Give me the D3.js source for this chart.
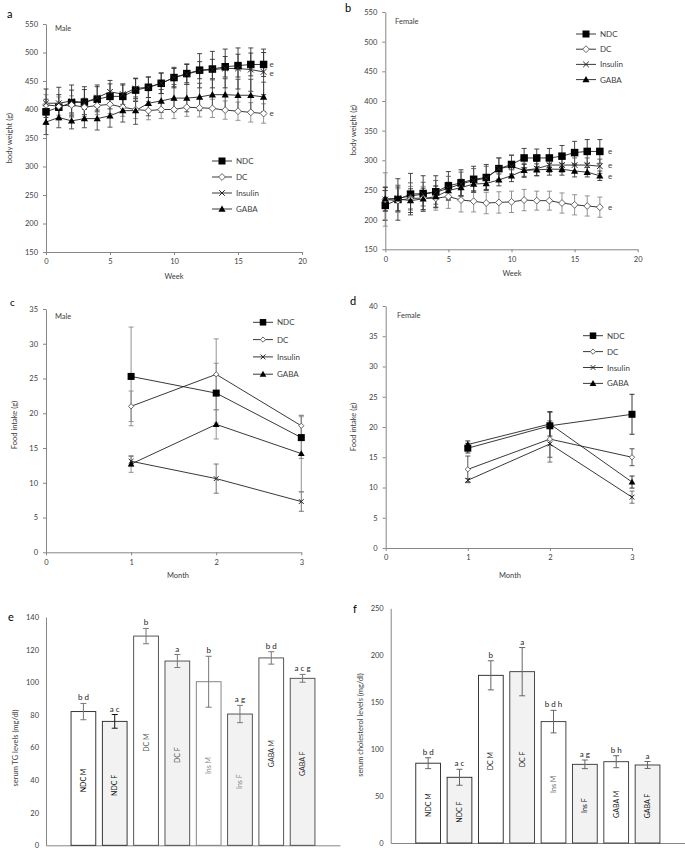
<!DOCTYPE html>
<html><head><meta charset="utf-8">
<script src="https://cdn.jsdelivr.net/npm/d3@7"></script>
<style>
body{margin:0;background:#fff;}
svg{display:block;font-family:Lato,"Open Sans",sans-serif;}
</style></head>
<body>
<svg id="c" width="685" height="850"></svg>
<script>
// ---------- DATA ----------
const weeks = d3.range(0, 18);
const seriesNames = ["NDC", "DC", "Insulin", "GABA"];

// Panel a – male body weight (g)
const aNDC = [396,404,412,413,418,423,423,434,439,446,456,463,469,471,475,477,479,479];
const aDC  = [408,406,408,404,407,409,404,400,398,400,400,404,403,402,399,397,395,393];
const aIns = [411,411,415,412,421,431,427,437,439,446,456,462,468,470,472,472,470,466];
const aGABA= [378,386,380,384,384,389,398,398,411,415,420,420,422,426,426,425,425,422];
const aNDCerr = [22,22,22,22,22,22,20,20,18,18,16,16,15,17,18,20,20,21];
const aDCerr  = [18,16,16,16,16,16,16,16,16,16,16,16,16,16,16,16,17,17];
const aInserr = [25,28,28,28,22,20,18,18,18,18,18,18,30,32,34,36,38,40];
const aGABAerr= [22,18,14,16,20,20,20,24,22,20,24,24,24,26,28,28,28,26];

// Panel b – female body weight (g)
const bNDC = [224,234,243,244,247,257,262,268,271,286,293,304,304,304,307,313,315,315];
const bDC  = [234,232,236,236,236,239,233,231,228,229,230,233,232,232,228,225,223,221];
const bIns = [234,236,240,243,246,253,260,266,270,286,290,283,286,292,292,292,292,290];
const bGABA= [235,235,232,235,239,249,254,260,261,267,274,283,284,285,285,282,280,274];
const bNDCerr = [25,35,35,30,27,24,22,22,22,18,16,16,15,16,18,19,20,20];
const bDCerr  = [45,20,20,20,20,20,20,18,18,18,18,18,16,16,17,17,17,17];
const bInserr = [20,22,22,20,20,20,20,20,20,18,18,12,12,12,12,12,12,12];
const bGABAerr= [20,20,20,18,18,14,14,12,10,10,10,10,10,10,10,10,8,8];

// Panels c, d – food intake (g)
const months = [1, 2, 3];
const cNDC = [25.3, 22.9, 16.5],  cNDCerr = [7.1, 4.3, 3.0];
const cDC  = [21.0, 25.6, 18.2],  cDCerr  = [2.2, 5.1, 1.5];
const cIns = [13.1, 10.6, 7.3],   cInserr = [0.7, 2.1, 1.4];
const cGABA= [12.7, 18.4, 14.2],  cGABAerr= [1.2, 2.1, 5.5];

const dNDC = [16.5, 20.2, 22.1],  dNDCerr = [0.8, 2.3, 3.3];
const dDC  = [13.0, 18.0, 15.0],  dDCerr  = [2.2, 3.0, 1.4];
const dIns = [11.2, 17.2, 8.4],   dInserr = [0.3, 3.0, 1.0];
const dGABA= [17.1, 20.5, 10.9],  dGABAerr= [0.6, 2.0, 1.0];

// Panels e, f – serum levels
const groups = ["NDC M","NDC F","DC M","DC F","Ins M","Ins F","GABA M","GABA F"];
const eTG    = [82, 76, 128.3, 113, 100.3, 80.5, 114.9, 102.4];
const eTGerr = [5, 4.2, 4.7, 4, 15.6, 5.3, 3.8, 2.4];
const eLetters = ["b d","a c","b","a","b","a g","b d","a c g"];
const fCh    = [85, 70, 178.6, 182.5, 129.3, 83.8, 86.6, 83.1];
const fCherr = [5.8, 8.5, 15.5, 25.7, 12, 4.6, 6.4, 3.7];
const fLetters = ["b d","a c","b","a","b d h","a g","b h","a"];

const weekTicks = [0,5,10,15,20];
const monthTicks = [0,1,2,3];
const bwTicks = [150,200,250,300,350,400,450,500,550];
const cTicks = [0,5,10,15,20,25,30,35];
const dTicks = [0,5,10,15,20,25,30,35,40];
const eTicks = [0,20,40,60,80,100,120,140];
const fTicks = [0,50,100,150,200,250];

// ---------- DRAW ----------
const svg = d3.select("#c");
const AX = "#868686", TXT = "#404040";
const fmt = d3.format("d");

function label(x, y, t, opts={}) {
  const s = svg.append("text").attr("x", x).attr("y", y).text(t)
    .attr("font-size", opts.size || 8).attr("fill", opts.fill || TXT)
    .attr("text-anchor", opts.anchor || "start");
  if (opts.rot) s.attr("transform", `rotate(${opts.rot},${x},${y})`);
  if (opts.weight) s.attr("font-weight", opts.weight);
  return s;
}

function axes(x, y, xTicks, yTicks, yTickSize) {
  const gx = svg.append("g").attr("transform", `translate(0,${y.range()[0]})`)
    .call(d3.axisBottom(x).tickValues(xTicks).tickFormat(fmt).tickSize(3).tickPadding(4).tickSizeOuter(0));
  const gy = svg.append("g").attr("transform", `translate(${x.range()[0]},0)`)
    .call(d3.axisLeft(y).tickValues(yTicks).tickFormat(fmt).tickSize(yTickSize).tickPadding(5).tickSizeOuter(0));
  [gx, gy].forEach(g => {
    g.select(".domain").attr("stroke", AX);
    g.selectAll(".tick line").attr("stroke", AX);
    g.selectAll(".tick text").attr("fill", TXT).attr("font-size", 7.5).attr("font-family", "Lato, sans-serif");
  });
  return [gx, gy];
}

function marker(g, type, cx, cy, s) {
  if (type === "NDC") {
    g.append("rect").attr("x", cx - s/2).attr("y", cy - s/2).attr("width", s).attr("height", s).attr("fill", "#000");
  } else if (type === "DC") {
    const r = s * 0.38;
    g.append("path").attr("d", `M${cx},${cy-r}L${cx+r},${cy}L${cx},${cy+r}L${cx-r},${cy}Z`)
      .attr("fill", "#fff").attr("stroke", "#555").attr("stroke-width", 0.9);
  } else if (type === "Insulin") {
    const r = s * 0.4;
    g.append("path").attr("d", `M${cx-r},${cy-r}L${cx+r},${cy+r}M${cx-r},${cy+r}L${cx+r},${cy-r}`)
      .attr("stroke", "#222").attr("stroke-width", 1).attr("fill", "none");
  } else {
    const r = s * 0.48;
    g.append("path").attr("d", `M${cx},${cy-r}L${cx+r},${cy+r*0.75}L${cx-r},${cy+r*0.75}Z`).attr("fill", "#000");
  }
}

function linePanel(cfg) {
  const {x, y, xs, data, errs, xTicks, yTicks, sizes, errColor} = cfg;
  axes(x, y, xTicks, yTicks, 3);
  const g = svg.append("g");
  data.forEach((vals, si) => {
    vals.forEach((v, i) => {
      const e = errs[si][i], cx = x(xs[i]);
      const col = errColor[si];
      g.append("line").attr("x1", cx).attr("x2", cx).attr("y1", y(v - e)).attr("y2", y(v + e)).attr("stroke", col).attr("stroke-width", 0.9);
      [v - e, v + e].forEach(t => g.append("line").attr("x1", cx - 2.5).attr("x2", cx + 2.5).attr("y1", y(t)).attr("y2", y(t)).attr("stroke", col).attr("stroke-width", 0.9));
    });
  });
  const line = d3.line().x((d, i) => x(xs[i])).y(d => y(d));
  data.forEach((vals) => {
    g.append("path").datum(vals).attr("d", line).attr("fill", "none").attr("stroke", "#222").attr("stroke-width", 0.9);
  });
  data.forEach((vals, si) => {
    vals.forEach((v, i) => marker(g, seriesNames[si], x(xs[i]), y(v), sizes[si]));
  });
}

function legend(x0, y0, dy, sizes) {
  seriesNames.forEach((n, i) => {
    const yy = y0 + i * dy;
    svg.append("line").attr("x1", x0).attr("x2", x0 + 20).attr("y1", yy).attr("y2", yy).attr("stroke", "#222").attr("stroke-width", 0.9);
    marker(svg.append("g"), n, x0 + 10, yy, sizes[i]);
    label(x0 + 24, yy + 3, n, {size: 8});
  });
}

// Panel a
{
  const x = d3.scaleLinear().domain([0, 20]).range([46, 302]);
  const y = d3.scaleLinear().domain([150, 550]).range([252, 24]);
  linePanel({x, y, xs: weeks, data: [aNDC, aDC, aIns, aGABA], errs: [aNDCerr, aDCerr, aInserr, aGABAerr],
    xTicks: weekTicks, yTicks: bwTicks, sizes: [7.5, 9, 7, 7.5], errColor: ["#333", "#888", "#333", "#444"]});
  legend(212, 161, 16, [7, 9, 7, 7.5]);
  label(7, 18, "a", {size: 11, fill: "#000"});
  label(55, 31, "Male", {size: 7.5});
  label(12, 138, "body weight (g)", {rot: -90, anchor: "middle", size: 7.5});
  label(174, 279, "Week", {anchor: "middle", size: 7.5});
  label(x(17) + 6, y(479) + 3, "e", {size: 8});
  label(x(17) + 6, y(466) + 4, "e", {size: 8});
  label(x(17) + 6, y(393) + 3, "e", {size: 8});
}
// Panel b
{
  const x = d3.scaleLinear().domain([0, 20]).range([385.3, 637.7]);
  const y = d3.scaleLinear().domain([150, 550]).range([249.3, 12]);
  linePanel({x, y, xs: weeks, data: [bNDC, bDC, bIns, bGABA], errs: [bNDCerr, bDCerr, bInserr, bGABAerr],
    xTicks: weekTicks, yTicks: bwTicks, sizes: [7.5, 9, 7, 7.5], errColor: ["#333", "#888", "#555", "#333"]});
  legend(576, 34, 15.2, [7, 9, 7, 7.5]);
  label(345, 12, "b", {size: 11, fill: "#000"});
  label(395, 24, "Female", {size: 7.5});
  label(356, 130, "body weight (g)", {rot: -90, anchor: "middle", size: 7.5});
  label(512, 276, "Week", {anchor: "middle", size: 7.5});
  label(608, y(315) + 3, "e", {size: 8});
  label(608, y(292) + 3, "e", {size: 8});
  label(608, y(274) + 3, "e", {size: 8});
  label(608, y(221) + 3, "e", {size: 8});
}
// Panel c
{
  const x = d3.scaleLinear().domain([0, 3]).range([46, 301.3]);
  const y = d3.scaleLinear().domain([0, 35]).range([552.3, 309]);
  linePanel({x, y, xs: months, data: [cNDC, cDC, cIns, cGABA], errs: [cNDCerr, cDCerr, cInserr, cGABAerr],
    xTicks: monthTicks, yTicks: cTicks, sizes: [7, 7, 6, 7], errColor: ["#888", "#888", "#666", "#888"]});
  legend(253, 322.3, 17.3, [6.5, 7, 6, 7]);
  label(10, 306, "c", {size: 10, fill: "#000"});
  label(55, 319, "Male", {size: 7.5});
  label(17, 425, "Food intake (g)", {rot: -90, anchor: "middle", size: 7.5});
  label(178, 578, "Month", {anchor: "middle", size: 7.5});
}
// Panel d
{
  const x = d3.scaleLinear().domain([0, 3]).range([385.7, 632]);
  const y = d3.scaleLinear().domain([0, 40]).range([548, 306]);
  linePanel({x, y, xs: months, data: [dNDC, dDC, dIns, dGABA], errs: [dNDCerr, dDCerr, dInserr, dGABAerr],
    xTicks: monthTicks, yTicks: dTicks, sizes: [7, 7, 6, 7], errColor: ["#222", "#444", "#666", "#222"]});
  legend(583, 335.7, 15.9, [6.5, 7, 6, 7]);
  label(350, 305, "d", {size: 11, fill: "#000"});
  label(397, 318, "Female", {size: 7.5});
  label(356, 427, "Food intake (g)", {rot: -90, anchor: "middle", size: 7.5});
  label(510, 578, "Month", {anchor: "middle", size: 7.5});
}

// Bar panels
function barPanel(cfg) {
  const {x0, x1, y, yTicks, vals, errs, letters, labelCols, strokeCols, errCols} = cfg;
  const x = d3.scaleBand().domain(groups).range([x0, x1]).paddingInner(0.21).paddingOuter(0.8);
  const gx = svg.append("g").attr("transform", `translate(0,${y.range()[0]})`)
    .call(d3.axisBottom(x).tickSize(0).tickFormat(""));
  gx.select(".domain").attr("stroke", AX);
  const gy = svg.append("g").attr("transform", `translate(${x0},0)`)
    .call(d3.axisLeft(y).tickValues(yTicks).tickFormat(fmt).tickSize(0).tickPadding(7).tickSizeOuter(0));
  gy.select(".domain").attr("stroke", AX);
  gy.selectAll(".tick text").attr("fill", TXT).attr("font-size", 7.5).attr("font-family", "Lato, sans-serif");
  const g = svg.append("g");
  groups.forEach((grp, i) => {
    const bx = x(grp), bw = x.bandwidth(), v = vals[i], e = errs[i];
    g.append("rect").attr("x", bx).attr("y", y(v)).attr("width", bw).attr("height", y(0) - y(v))
      .attr("fill", grp.endsWith("F") ? "#f2f2f2" : "#fff").attr("stroke", strokeCols[i]).attr("stroke-width", 0.9);
    const cx = bx + bw / 2;
    g.append("line").attr("x1", cx).attr("x2", cx).attr("y1", y(v - e)).attr("y2", y(v + e)).attr("stroke", errCols[i]).attr("stroke-width", 1);
    [v - e, v + e].forEach(t => g.append("line").attr("x1", cx - 3).attr("x2", cx + 3).attr("y1", y(t)).attr("y2", y(t)).attr("stroke", errCols[i]).attr("stroke-width", 1));
    label(cx, y(v + e) - 3, letters[i], {anchor: "middle", size: 8, fill: "#222"});
    const my = (y(v) + y(0)) / 2 + 2;
    label(cx + 2.5, my, grp, {rot: -90, anchor: "middle", size: 7, fill: labelCols[i]});
  });
}
{
  const y = d3.scaleLinear().domain([0, 140]).range([845.3, 617]);
  barPanel({x0: 46, x1: 340, y, yTicks: eTicks, vals: eTG, errs: eTGerr, letters: eLetters,
    labelCols: ["#000","#111","#555","#555","#888","#888","#333","#333"],
    strokeCols: ["#222","#222","#444","#444","#777","#444","#444","#444"],
    errCols: ["#777","#111","#777","#777","#777","#777","#777","#777"]});
  label(8, 621, "e", {size: 11, fill: "#000"});
  label(18, 748, "serum TG  levels (mg/dl)", {rot: -90, anchor: "middle", size: 7.5});
}
{
  const y = d3.scaleLinear().domain([0, 250]).range([843, 608.3]);
  barPanel({x0: 390.7, x1: 685, y, yTicks: fTicks, vals: fCh, errs: fCherr, letters: fLetters,
    labelCols: ["#222","#222","#222","#222","#666","#222","#222","#222"],
    strokeCols: ["#222","#222","#222","#333","#333","#333","#333","#333"],
    errCols: ["#666","#666","#666","#666","#666","#666","#666","#666"]});
  label(353, 613, "f", {size: 11, fill: "#000"});
  label(363, 725, "serum cholesterol levels (mg/dl)", {rot: -90, anchor: "middle", size: 7.5});
}
</script>
</body></html>
